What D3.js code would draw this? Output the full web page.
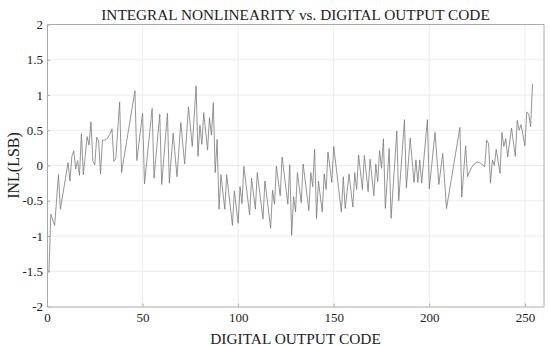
<!DOCTYPE html>
<html>
<head>
<meta charset="utf-8">
<script src="https://cdn.jsdelivr.net/npm/d3@7"></script>
<style>
  body { margin: 0; background: #fff; }
  svg text { font-family: "Liberation Serif", "Times New Roman", serif !important; fill: #222; }
</style>
</head>
<body>
<svg id="chart"></svg>
<script>
/*=================
=== Data
=================*/
// vertices (code, INL)
var codes = [1, 2, 4, 6, 7, 11, 12, 13, 14, 15, 16, 17, 18, 19, 21, 22, 23, 24, 25, 26, 27, 28, 29, 30,
	31, 32, 33, 34, 35, 36, 38, 39, 46, 47, 50, 51, 55, 56, 59, 60, 63, 64, 66, 68, 70, 72, 74, 76, 78,
	79, 80, 81, 82, 84, 85, 86, 87, 88, 89, 90, 91, 93, 94, 97, 98, 100, 101, 102, 103, 106, 107, 109,
	110, 113, 114, 117, 118, 119, 120, 122, 123, 126, 127, 128, 129, 130, 131, 133, 134, 137, 138, 139,
	140, 141, 142, 144, 145, 146, 147, 149, 150, 154, 155, 156, 158, 160, 161, 162, 163, 165, 166, 168,
	169, 171, 172, 173, 174, 175, 176, 177, 179, 180, 183, 184, 187, 188, 190, 192, 193, 194, 195, 196,
	199, 200, 203, 205, 207, 209, 216, 217, 219, 220, 221, 222, 223.5, 225, 226.3, 227.5, 229, 230, 231,
	232, 233, 234, 235, 237, 238, 239, 240, 241, 243, 245, 246, 247, 248, 250, 251, 252, 253, 254];

var inl = [-1.52, -0.69, -0.85, -0.13, -0.62, 0.04, -0.22, 0.13, 0.21, -0.05, 0.07, -0.14, 0.45, -0.13,
	0.41, 0.29, 0.62, 0.06, 0.01, 0.40, 0.35, -0.12, 0.36, 0.36,
	0.37, 0.40, 0.45, 0.52, 0.06, 0.10, 0.90, -0.10, 1.06, 0.07, 0.74, -0.26, 0.81, -0.18, 0.73, -0.27,
	0.74, -0.25, 0.46, -0.16, 0.61, 0.02, 0.83, 0.27, 1.13,
	0.13, 0.57, 0.30, 0.75, 0.22, 0.68, 0.43, 0.89, -0.10, 0.37, -0.62, -0.13, -0.62, -0.13, -0.85, -0.36,
	-0.82, -0.30, -0.54, -0.01, -0.70, -0.18, -0.62,
	-0.10, -0.76, -0.22, -0.89, -0.35, -0.55, -0.01, -0.43, 0.12, -0.55, 0.01, -0.99, -0.44, -0.66, -0.10,
	-0.53, 0.02, -0.64, -0.10, -0.30,
	0.23, -0.75, -0.22, -0.66, -0.12, -0.34, 0.19, -0.24, 0.27, -0.66, -0.16, -0.61, -0.12, -0.59, -0.10,
	-0.34, 0.15, -0.34, 0.14, -0.37,
	0.09, -0.43, 0.02, -0.23, 0.21, -0.04, 0.38, -0.61, 0.24, -0.75, 0.49, -0.50, 0.65, -0.32, 0.39, -0.24,
	0.08, -0.24, 0.08, -0.25,
	0.65, -0.33, 0.47, -0.27, 0.17, -0.61, 0.54, -0.45, 0.28, -0.16, -0.09, -0.03, 0.02, 0.05, 0.04, 0.02,
	-0.02, 0.36, 0.31,
	-0.25, 0.08, 0.00, 0.23, -0.11, 0.47, 0.27, 0.38, 0.12, 0.53, 0.13, 0.64, 0.50, 0.58, 0.28, 0.76, 0.73,
	0.55, 1.16];

var xTicks = [0, 50, 100, 150, 200, 250];
var yTicks = [-2, -1.5, -1, -0.5, 0, 0.5, 1, 1.5, 2];

var titleText = 'INTEGRAL NONLINEARITY vs. DIGITAL OUTPUT CODE';
var xLabel = 'DIGITAL OUTPUT CODE';
var yLabel = 'INL(LSB)';

/*=================
=== Layout
=================*/
var width = 550, height = 346;
var margin = { top: 24.5, right: 6, bottom: 39.5, left: 47 };
var innerW = width - margin.left - margin.right;
var innerH = height - margin.top - margin.bottom;
var serif = '"Liberation Serif", "Times New Roman", serif';

var svg = d3.select('#chart')
	.attr('width', width)
	.attr('height', height);

var x = d3.scaleLinear().domain([0, 260]).range([0, innerW]);
var y = d3.scaleLinear().domain([-2, 2]).range([innerH, 0]);

var g = svg.append('g')
	.attr('transform', `translate(${margin.left},${margin.top})`);

// grid
g.append('g').selectAll('line')
	.data(xTicks.filter(d => d > 0))
	.enter().append('line')
	.attr('x1', d => x(d)).attr('x2', d => x(d))
	.attr('y1', 0).attr('y2', innerH)
	.attr('stroke', '#ececec');

g.append('g').selectAll('line')
	.data(yTicks.filter(d => d > -2 && d < 2))
	.enter().append('line')
	.attr('y1', d => y(d)).attr('y2', d => y(d))
	.attr('x1', 0).attr('x2', innerW)
	.attr('stroke', '#ececec');

// axes
var xAxis = g.append('g')
	.attr('transform', `translate(0,${innerH})`)
	.call(d3.axisBottom(x).tickValues(xTicks).tickSizeInner(-3).tickSizeOuter(0).tickPadding(6)
		.tickFormat(d3.format('')));

var yAxis = g.append('g')
	.call(d3.axisLeft(y).tickValues(yTicks).tickSizeInner(-3).tickSizeOuter(0).tickPadding(4)
		.tickFormat(d => String(d)));

[xAxis, yAxis].forEach(a => {
	a.attr('font-family', serif).attr('font-size', 13);
	a.select('.domain').attr('stroke', '#aaa');
	a.selectAll('.tick line').attr('stroke', '#aaa');
	a.selectAll('.tick text')
		.style('font-family', serif)
		.style('font-size', '13px')
		.attr('fill', '#222');
});

// box top/right
g.append('line').attr('x1', 0).attr('x2', innerW).attr('y1', 0).attr('y2', 0).attr('stroke', '#aaa');
g.append('line').attr('x1', innerW).attr('x2', innerW).attr('y1', 0).attr('y2', innerH).attr('stroke', '#aaa');

// INL line
var pts = codes.map((c, i) => [c, inl[i]]);
var line = d3.line()
	.x(d => x(d[0]))
	.y(d => y(d[1]));

g.append('path')
	.datum(pts)
	.attr('fill', 'none')
	.attr('stroke', '#7a7a7a')
	.attr('stroke-width', 0.8)
	.attr('stroke-linejoin', 'round')
	.attr('d', line);

/*=================
=== Labels
=================*/
svg.append('text')
	.attr('x', margin.left + innerW / 2)
	.attr('y', 20)
	.attr('text-anchor', 'middle')
	.style('font-size', '15.3px')
	.text(titleText);

svg.append('text')
	.attr('x', margin.left + innerW / 2)
	.attr('y', 344)
	.attr('text-anchor', 'middle')
	.style('font-size', '15.4px')
	.text(xLabel);

svg.append('text')
	.attr('transform', `translate(19,${margin.top + innerH / 2}) rotate(-90)`)
	.attr('text-anchor', 'middle')
	.style('font-size', '16px')
	.text(yLabel);
</script>
</body>
</html>
